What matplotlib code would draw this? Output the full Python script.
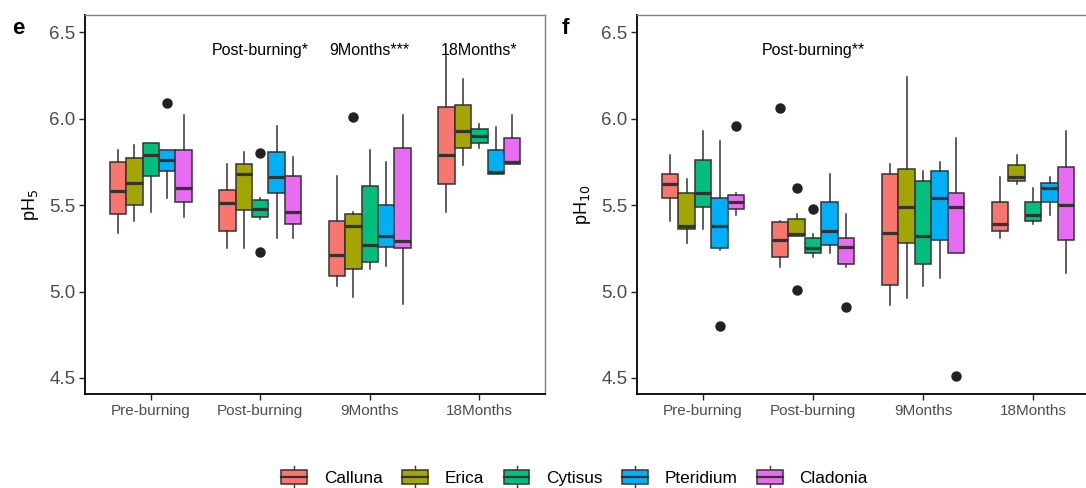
import matplotlib
matplotlib.use("Agg")
import matplotlib.pyplot as plt
from matplotlib.patches import Rectangle, Patch
from matplotlib.lines import Line2D
from matplotlib.legend_handler import HandlerBase

plt.rcParams['font.family'] = ['Liberation Sans', 'DejaVu Sans']

times = ["Pre-burning", "Post-burning", "9Months", "18Months"]
species = ["Calluna", "Erica", "Cytisus", "Pteridium", "Cladonia"]
colors = ["#F8766D", "#A3A500", "#00BF7D", "#00B0F6", "#E76BF3"]

# ---- pH5 (panel e): per species, per time: [whislo, q1, med, q3, whishi]
ph5_calluna   = [[5.34, 5.45, 5.58, 5.75, 5.82], [5.25, 5.35, 5.51, 5.59, 5.74], [5.03, 5.09, 5.21, 5.41, 5.67], [5.46, 5.62, 5.79, 6.07, 6.36]]
ph5_erica     = [[5.41, 5.50, 5.63, 5.77, 5.85], [5.25, 5.47, 5.68, 5.74, 5.81], [4.97, 5.13, 5.38, 5.45, 5.46], [5.73, 5.83, 5.93, 6.08, 6.23]]
ph5_cytisus   = [[5.46, 5.67, 5.79, 5.86, 5.86], [5.42, 5.43, 5.48, 5.53, 5.54], [5.13, 5.17, 5.27, 5.61, 5.82], [5.83, 5.86, 5.90, 5.94, 5.97]]
ph5_pteridium = [[5.54, 5.70, 5.76, 5.82, 5.82], [5.31, 5.57, 5.66, 5.81, 5.96], [5.15, 5.26, 5.32, 5.50, 5.75], [5.68, 5.68, 5.69, 5.82, 5.95]]
ph5_cladonia  = [[5.43, 5.52, 5.60, 5.82, 6.02], [5.31, 5.39, 5.46, 5.67, 5.78], [4.93, 5.25, 5.29, 5.83, 6.02], [5.74, 5.74, 5.75, 5.89, 6.02]]
ph5_fliers = {("Pteridium", 0): [6.09], ("Cytisus", 1): [5.80, 5.23], ("Erica", 2): [6.01]}

# ---- pH10 (panel f)
ph10_calluna   = [[5.41, 5.54, 5.62, 5.68, 5.79], [5.14, 5.20, 5.30, 5.40, 5.41], [4.92, 5.04, 5.34, 5.68, 5.74], [5.31, 5.35, 5.39, 5.52, 5.66]]
ph10_erica     = [[5.28, 5.36, 5.38, 5.57, 5.65], [5.32, 5.32, 5.33, 5.42, 5.45], [4.96, 5.28, 5.49, 5.71, 6.24], [5.62, 5.64, 5.66, 5.73, 5.79]]
ph10_cytisus   = [[5.36, 5.49, 5.57, 5.76, 5.93], [5.20, 5.22, 5.25, 5.31, 5.33], [5.03, 5.16, 5.32, 5.64, 5.70], [5.39, 5.41, 5.44, 5.52, 5.60]]
ph10_pteridium = [[5.24, 5.25, 5.38, 5.54, 5.87], [5.22, 5.27, 5.35, 5.52, 5.68], [5.08, 5.30, 5.54, 5.70, 5.75], [5.44, 5.52, 5.60, 5.63, 5.66]]
ph10_cladonia  = [[5.44, 5.48, 5.52, 5.56, 5.57], [5.14, 5.16, 5.26, 5.31, 5.45], [5.22, 5.22, 5.49, 5.57, 5.89], [5.11, 5.30, 5.50, 5.72, 5.93]]
ph10_fliers = {("Pteridium", 0): [4.80], ("Cladonia", 0): [5.96],
               ("Calluna", 1): [6.06], ("Erica", 1): [5.60, 5.01], ("Cytisus", 1): [5.48],
               ("Cladonia", 1): [4.91], ("Cladonia", 2): [4.51]}

ph5 = [ph5_calluna, ph5_erica, ph5_cytisus, ph5_pteridium, ph5_cladonia]
ph10 = [ph10_calluna, ph10_erica, ph10_cytisus, ph10_pteridium, ph10_cladonia]

annot_e = {"Post-burning": "Post-burning*", "9Months": "9Months***", "18Months": "18Months*"}
annot_f = {"Post-burning": "Post-burning**"}

W, H = 1086, 488
fig = plt.figure(figsize=(W / 100, H / 100), dpi=100)

edge = "#333333"
tickc = "#4D4D4D"


def draw_panel(ax, data, fliers, annots, ylabel, letter):
    bw = 0.15
    offsets = [-0.3, -0.15, 0.0, 0.15, 0.3]
    for si, sp in enumerate(species):
        stats = []
        pos = []
        for ti, t in enumerate(times):
            lo, q1, med, q3, hi = data[si][ti]
            stats.append(dict(whislo=lo, q1=q1, med=med, q3=q3, whishi=hi,
                              fliers=fliers.get((sp, ti), [])))
            pos.append(ti + 1 + offsets[si])
        ax.bxp(stats, positions=pos, widths=bw, patch_artist=True, showcaps=False,
               boxprops=dict(facecolor=colors[si], edgecolor=edge, linewidth=1.1),
               medianprops=dict(color=edge, linewidth=2.3, solid_capstyle='butt'),
               whiskerprops=dict(color=edge, linewidth=1.1),
               flierprops=dict(marker='o', markerfacecolor='#222222', markeredgecolor='#222222',
                               markersize=6.5),
               manage_ticks=False)
    ax.set_xlim(0.4, 4.6)
    ax.set_ylim(4.407, 6.6)
    ax.set_xticks(range(1, len(times) + 1))
    ax.set_xticklabels(times, fontsize=11, color=tickc)
    ax.set_yticks([4.5, 5.0, 5.5, 6.0, 6.5])
    ax.set_yticklabels(["4.5", "5.0", "5.5", "6.0", "6.5"], fontsize=13.5, color=tickc)
    ax.tick_params(axis='both', direction='out', length=4, width=1, color='#222222', pad=3)
    for s in ['left', 'bottom']:
        ax.spines[s].set_color('black')
        ax.spines[s].set_linewidth(1.3)
    for s in ['top', 'right']:
        ax.spines[s].set_color('#7F7F7F')
        ax.spines[s].set_linewidth(1.0)
    ax.set_ylabel(ylabel, fontsize=13, color='black', labelpad=6)
    for t, txt in annots.items():
        ax.text(times.index(t) + 1, 6.394, txt, ha='center', va='center', fontsize=11.5, color='black')
    return ax


ax1 = fig.add_axes([85 / W, 1 - 394 / H, 460 / W, 379 / H])
draw_panel(ax1, ph5, ph5_fliers, annot_e, "pH$_5$", "e")
ax2 = fig.add_axes([637 / W, 1 - 394 / H, 462 / W, 379 / H])
draw_panel(ax2, ph10, ph10_fliers, annot_f, "pH$_{10}$", "f")

fig.text(12 / W, 1 - 28 / H, "e", fontsize=16, fontweight='bold', va='center', ha='left')
fig.text(562 / W, 1 - 28 / H, "f", fontsize=16, fontweight='bold', va='center', ha='left')


class BoxHandler(HandlerBase):
    def create_artists(self, legend, orig_handle, xdescent, ydescent, width, height, fontsize, trans):
        fc = orig_handle.get_facecolor()
        x0, y0 = -xdescent, -ydescent
        b0 = y0 + 0.15 * height
        b1 = y0 + 0.85 * height
        xm = x0 + width / 2
        arts = [
            Line2D([xm, xm], [b1, y0 + height], color=edge, lw=1.0, transform=trans),
            Line2D([xm, xm], [y0, b0], color=edge, lw=1.0, transform=trans),
            Rectangle((x0, b0), width, b1 - b0, facecolor=fc, edgecolor=edge, lw=1.1, transform=trans),
            Line2D([x0, x0 + width], [(b0 + b1) / 2] * 2, color=edge, lw=1.6, transform=trans),
        ]
        return arts


handles = [Patch(facecolor=c, edgecolor=edge) for c in colors]
fig.legend(handles, species, handler_map={Patch: BoxHandler()}, loc='center',
           bbox_to_anchor=(0.529, 1 - 477 / H), ncol=5, frameon=False, fontsize=12.4,
           handlelength=1.5, handleheight=1.5, handletextpad=0.95, columnspacing=1.15,
           borderpad=0.0)

fig.savefig("out.png", dpi=100)
